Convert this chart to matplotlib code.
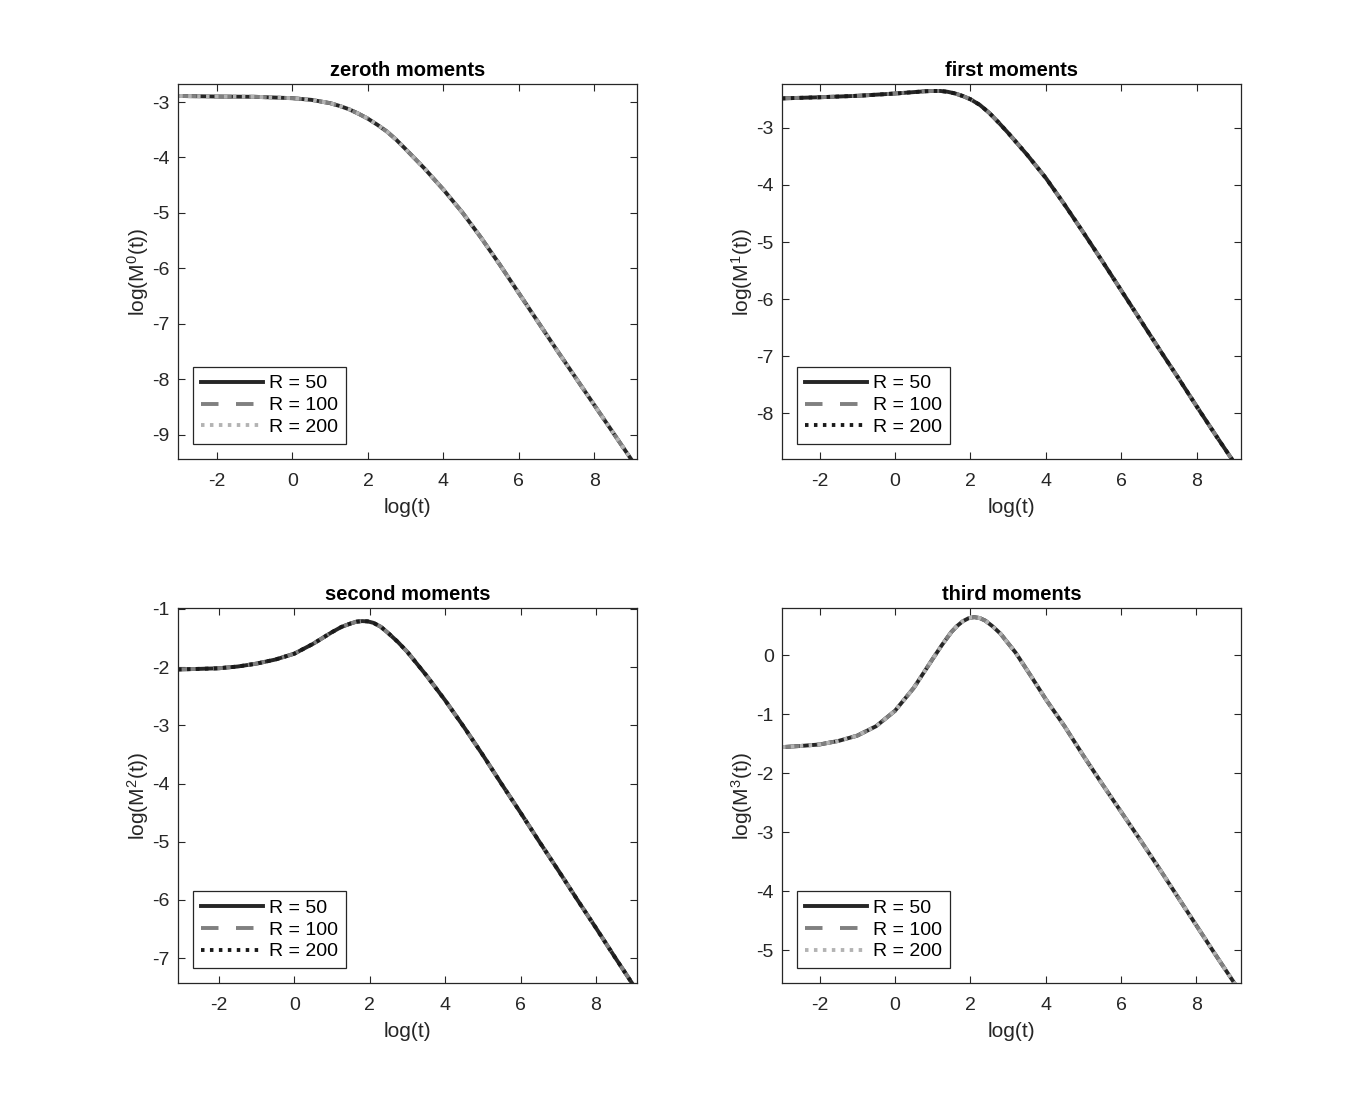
import numpy as np
import matplotlib
matplotlib.use("Agg")
import matplotlib.pyplot as plt

plt.rcParams['font.family'] = ['Liberation Sans', 'DejaVu Sans']
plt.rcParams['mathtext.default'] = 'regular'
plt.rcParams['axes.unicode_minus'] = False

# log(t) / log(M^k(t)) values
x0 = [-3.0, -2.0, -1.0, 0.0, 0.5, 1.0, 1.25, 1.5, 1.75, 2.0, 2.25, 2.5, 2.75, 3.0,
      3.5, 4.0, 4.5, 5.0, 5.5, 6.0, 6.5, 7.0, 7.5, 8.0, 8.5, 9.0, 9.13]
y0 = [-2.89, -2.90, -2.905, -2.93, -2.96, -3.02, -3.07, -3.13, -3.21, -3.30, -3.41,
      -3.53, -3.68, -3.85, -4.20, -4.58, -4.99, -5.45, -5.94, -6.45, -6.96, -7.47,
      -7.97, -8.47, -8.97, -9.47, -9.60]

x1 = [-3.0, -2.0, -1.0, 0.0, 0.5, 0.8, 1.0, 1.2, 1.4, 1.6, 1.8, 2.0, 2.25, 2.5,
      2.75, 3.0, 3.5, 4.0, 4.5, 5.0, 5.5, 6.0, 6.5, 7.0, 7.5, 8.0, 8.5, 9.0, 9.18]
y1 = [-2.485, -2.465, -2.44, -2.40, -2.375, -2.36, -2.355, -2.355, -2.37, -2.40,
      -2.445, -2.50, -2.60, -2.74, -2.91, -3.09, -3.47, -3.88, -4.35, -4.84, -5.34,
      -5.85, -6.36, -6.87, -7.37, -7.88, -8.38, -8.87, -9.05]

x2 = [-3.08, -2.5, -2.0, -1.5, -1.0, -0.5, 0.0, 0.5, 1.0, 1.25, 1.5, 1.65, 1.8,
      1.95, 2.1, 2.3, 2.5, 2.75, 3.0, 3.5, 4.0, 4.5, 5.0, 5.5, 6.0, 6.5, 7.0, 7.5,
      8.0, 8.5, 9.0, 9.09]
y2 = [-2.04, -2.03, -2.02, -1.99, -1.94, -1.87, -1.77, -1.60, -1.40, -1.31, -1.25,
      -1.22, -1.21, -1.215, -1.24, -1.31, -1.42, -1.57, -1.74, -2.14, -2.57, -3.03,
      -3.51, -4.01, -4.50, -5.00, -5.49, -5.99, -6.48, -6.98, -7.47, -7.56]

x3 = [-3.0, -2.5, -2.0, -1.5, -1.0, -0.5, 0.0, 0.5, 1.0, 1.25, 1.5, 1.65, 1.8,
      1.95, 2.1, 2.25, 2.4, 2.6, 2.8, 3.2, 3.6, 4.0, 4.5, 5.0, 5.5, 6.0, 6.5, 7.0,
      7.5, 8.0, 8.5, 9.0, 9.19]
y3 = [-1.555, -1.535, -1.51, -1.45, -1.36, -1.20, -0.94, -0.55, -0.06, 0.18, 0.40,
      0.50, 0.58, 0.63, 0.65, 0.635, 0.59, 0.49, 0.37, 0.05, -0.34, -0.74, -1.20,
      -1.70, -2.18, -2.65, -3.12, -3.60, -4.09, -4.58, -5.07, -5.55, -5.74]

titles = ['zeroth moments', 'first moments', 'second moments', 'third moments']
R_labels = ['R = 50', 'R = 100', 'R = 200']
xlims = [(-3.03, 9.13), (-2.99, 9.18), (-3.08, 9.09), (-2.99, 9.19)]
ylims = [(-9.44, -2.675), (-8.80, -2.234), (-7.43, -0.99), (-5.56, 0.80)]
ytk = [range(-9, -2), range(-8, -2), range(-7, 0), range(-5, 1)]
dot_col = ['#b3b3b3', '#1a1a1a', '#1a1a1a', '#b3b3b3']

xs = [x0, x1, x2, x3]
ys = [y0, y1, y2, y3]

fig = plt.figure(figsize=(13.7, 11.06), dpi=100)
pos = [(0.130, 0.585), (0.571, 0.585), (0.130, 0.111), (0.571, 0.111)]
ax_c = '#262626'

for k in range(4):
    ax = fig.add_axes([pos[k][0], pos[k][1], 0.335, 0.339])
    ax.plot(xs[k], ys[k], color='#262626', lw=2.8, ls='-', label=R_labels[0])
    ax.plot(xs[k], ys[k], color='#808080', lw=2.8, ls=(0, (4.5, 4.5)), label=R_labels[1])
    ax.plot(xs[k], ys[k], color=dot_col[k], lw=2.8, ls=(0, (0.9, 1.4)), label=R_labels[2])
    ax.set_xlim(xlims[k])
    ax.set_ylim(ylims[k])
    ax.set_xticks([-2, 0, 2, 4, 6, 8])
    ax.set_yticks(list(ytk[k]))
    ax.tick_params(direction='in', top=True, right=True, length=5, width=0.8,
                   labelsize=14, colors=ax_c)
    ax.tick_params(axis='x', pad=10)
    ax.tick_params(axis='y', pad=6)
    for s in ax.spines.values():
        s.set_color(ax_c)
        s.set_linewidth(0.9)
    ax.set_title(titles[k], fontsize=14.5, fontweight='bold', color='black', pad=6)
    ax.set_xlabel('log(t)', fontsize=15, color=ax_c, labelpad=6)
    ax.set_ylabel('log(M$^{%d}$(t))' % k, fontsize=15, color=ax_c, labelpad=1)
    leg = ax.legend(loc='lower left', bbox_to_anchor=(0.033, 0.04), borderaxespad=0,
                    fontsize=14, handlelength=3.2, handletextpad=0.3,
                    labelspacing=0.22, borderpad=0.4, fancybox=False, framealpha=1)
    leg.get_frame().set_edgecolor('#262626')
    leg.get_frame().set_linewidth(0.9)

fig.savefig('out.png', dpi=100, facecolor='white')
